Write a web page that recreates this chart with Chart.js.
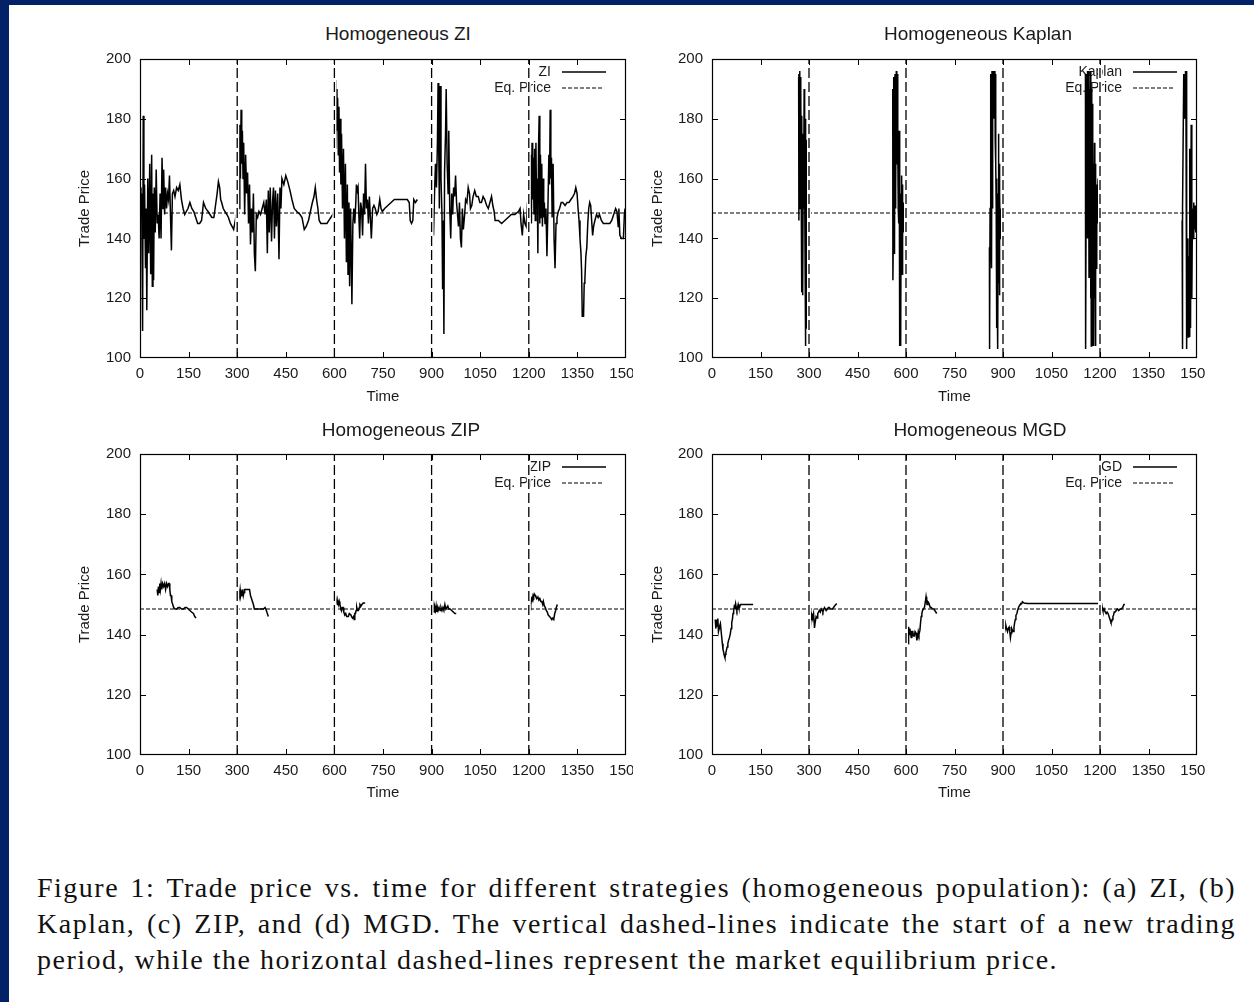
<!DOCTYPE html>
<html><head><meta charset="utf-8">
<script src="https://cdn.jsdelivr.net/npm/chart.js@4.4.0/dist/chart.umd.min.js"></script>
<style>
html,body{margin:0;padding:0;background:#fff;}
#page{position:relative;width:1254px;height:1002px;background:#fff;overflow:hidden;}
#bt{position:absolute;left:0;top:0;width:1254px;height:5px;background:#022166;}
#bl{position:absolute;left:0;top:0;width:9px;height:1002px;background:#022166;}
canvas{position:absolute;}
.ttl{position:absolute;font-family:'Liberation Sans',Arial,sans-serif;font-size:19px;color:#1a1a1a;white-space:nowrap;transform:translate(-50%,-50%);}
.cap{position:absolute;left:37px;width:1199px;font-family:'Liberation Serif','Times New Roman',serif;font-size:28px;letter-spacing:1.5px;line-height:36px;color:#111;white-space:nowrap;}
.just{text-align:justify;text-align-last:justify;}
</style></head><body>
<div id="page">
<div id="bt"></div><div id="bl"></div>
<canvas id="c1" width="573" height="370" style="left:60px;top:45px"></canvas>
<canvas id="c2" width="573" height="370" style="left:632px;top:45px"></canvas>
<canvas id="c3" width="573" height="370" style="left:60px;top:440px"></canvas>
<canvas id="c4" width="573" height="370" style="left:632px;top:440px"></canvas>
<div class="ttl" style="left:398px;top:34px">Homogeneous ZI</div>
<div class="ttl" style="left:978px;top:34px">Homogeneous Kaplan</div>
<div class="ttl" style="left:401px;top:430px">Homogeneous ZIP</div>
<div class="ttl" style="left:980px;top:430px">Homogeneous MGD</div>
<div class="cap just" style="top:870px">Figure 1: Trade price vs. time for different strategies (homogeneous population): (a) ZI, (b)</div>
<div class="cap just" style="top:906px">Kaplan, (c) ZIP, and (d) MGD. The vertical dashed-lines indicate the start of a new trading</div>
<div class="cap" style="top:942px">period, while the horizontal dashed-lines represent the market equilibrium price.</div>
</div>
<script>
// ---------------- data ----------------
const timeRange = [0, 1500];
const timeStep = 150;
const priceRange = [100, 200];
const priceStep = 20;
const periodStarts = [300, 600, 900, 1200];
const eqPrice = 148.5;

const ziTrades = [
 [[1,157],[3,152],[5,155],[8,109],[10,181],[12,140],[14,158],[17,130],[19,150],[21,116],[24,160],[27,135],[30,165],[33,128],[36,168],[38,124],[40,155],[42,126],[44,157],[47,142],[50,163],[53,145],[56,148],[59,140],[62,155],[65,140],[68,167],[71,150],[73,163],[76,148],[79,157],[82,150],[85,155],[88,153],[91,161],[94,148],[97,136],[100,155],[104,156],[108,154],[113,157],[118,156],[123,158],[128,153],[133,150],[138,148],[143,149],[148,150],[154,152],[160,150],[166,149],[172,147],[178,145],[184,145],[190,146],[196,152],[203,150],[210,149],[216,148],[222,147],[228,147],[233,151],[238,155],[242,159],[246,157],[249,153],[252,152],[257,150],[262,149],[268,148],[273,147],[279,145],[284,144],[289,143],[294,146],[297,148]],
 [[300,151],[301,137],[302,184],[304,170],[306,150],[308,178],[310,160],[312,183],[314,165],[316,176],[318,160],[320,172],[323,148],[326,168],[329,155],[332,162],[335,145],[338,158],[341,138],[344,150],[347,142],[350,155],[353,135],[356,129],[359,148],[363,147],[367,149],[372,148],[377,150],[382,152],[386,148],[390,153],[393,135],[396,156],[399,142],[402,157],[406,139],[409,152],[412,157],[415,140],[418,156],[421,144],[425,155],[429,133],[432,157],[435,150],[438,160],[444,158],[450,161],[456,159],[463,156],[469,153],[476,150],[484,149],[494,148],[500,147],[507,143],[513,144],[520,146],[526,149],[532,152],[537,154],[541,157],[545,153],[549,150],[553,146],[558,145],[568,145],[577,145],[583,146],[589,147],[595,148],[598,148]],
 [[600,148],[602,193],[604,170],[606,190],[608,176],[610,187],[612,168],[614,184],[616,162],[618,180],[620,158],[622,175],[625,150],[628,170],[631,140],[634,165],[637,132],[640,158],[642,128],[645,152],[647,124],[650,150],[652,135],[654,118],[657,145],[660,150],[663,145],[666,152],[668,158],[671,156],[673,157],[676,146],[678,140],[681,152],[684,150],[687,141],[690,155],[693,148],[696,165],[699,150],[702,153],[705,145],[708,154],[711,147],[714,140],[718,150],[722,151],[726,150],[731,148],[735,149],[740,153],[744,150],[748,149],[755,150],[765,151],[775,152],[785,153],[795,153],[805,153],[815,153],[825,153],[831,152],[834,146],[838,145],[842,146],[845,153],[850,152],[856,153]],
 [[902,145],[904,150],[906,141],[909,155],[912,165],[915,157],[918,172],[920,192],[922,170],[924,150],[926,191],[929,160],[932,148],[934,123],[936,146],[938,108],[940,162],[943,175],[945,190],[948,165],[951,155],[953,176],[956,150],[959,140],[962,155],[965,148],[968,157],[971,154],[974,161],[977,152],[980,148],[983,144],[986,152],[989,140],[992,137],[995,150],[998,143],[1002,148],[1005,153],[1009,152],[1013,157],[1017,155],[1020,150],[1024,151],[1028,154],[1033,156],[1038,154],[1044,154],[1049,152],[1054,152],[1059,154],[1064,153],[1070,151],[1075,150],[1080,152],[1085,154],[1089,151],[1093,149],[1096,146],[1106,146],[1116,145],[1126,146],[1136,147],[1146,148],[1157,148],[1168,149],[1173,150],[1176,145],[1180,141],[1184,148],[1188,145],[1192,144],[1195,150],[1198,148]],
 [[1200,148],[1202,170],[1204,150],[1206,168],[1208,145],[1210,172],[1212,153],[1214,167],[1216,148],[1218,170],[1220,146],[1222,172],[1224,150],[1226,160],[1228,135],[1230,170],[1232,181],[1234,145],[1236,168],[1238,147],[1240,165],[1242,144],[1244,160],[1246,147],[1248,152],[1250,145],[1253,150],[1256,134],[1259,150],[1262,168],[1264,158],[1266,183],[1268,160],[1270,167],[1272,147],[1275,165],[1278,140],[1281,130],[1284,145],[1287,147],[1291,149],[1295,150],[1300,152],[1305,152],[1312,151],[1318,152],[1324,152],[1330,153],[1336,154],[1341,155],[1345,157],[1349,155],[1352,150],[1355,146],[1358,140],[1361,135],[1363,129],[1365,114],[1369,114],[1371,125],[1373,126],[1376,134],[1379,137],[1382,145],[1385,150],[1388,152],[1391,151],[1394,146],[1397,141],[1400,144],[1404,146],[1409,148],[1414,147],[1418,148],[1424,146],[1430,145],[1437,145],[1444,145],[1450,145],[1456,146],[1462,148],[1468,150],[1472,149],[1476,144],[1478,150],[1481,141],[1486,140],[1492,140],[1495,148],[1497,150]]
];

const kaplanTrades = [
 [[268,194],[268.5,146],[269,195],[270,150],[271,196],[272,182],[273,194],[274,160],[275,190],[276,152],[277,122],[278,181],[279,145],[280,175],[281,121],[282,160],[283,150],[284,155],[285,190],[286,150],[287,160],[288,130],[289,180],[289.5,104],[290,155],[291,110],[292,148],[293,173],[294,140],[295,160],[296,150],[297,143],[298,153],[299,145],[300,148]],
 [[559,190],[559.5,126],[561,145],[562,194],[563,135],[564,190],[565,140],[566,195],[567,150],[568,191],[569,155],[570,196],[571,175],[572,196],[573,165],[574,195],[575,172],[576,150],[577,160],[578,145],[579,176],[580,104],[581,160],[582,106],[583,150],[584,104],[585,155],[586,140],[587,161],[588,128],[589,158],[590,145],[591,150],[592,142],[593,152],[594,146],[595,149],[596,144],[597,150],[598,146]],
 [[858,137],[858.5,103],[860,150],[862,195],[863,140],[864,194],[865,130],[866,196],[867,150],[868,195],[869,181],[870,196],[871,180],[872,195],[873,182],[875,196],[876,173],[877,195],[878,165],[879,150],[880,110],[881,160],[882,122],[883,155],[884,103],[885,150],[886,175],[887,125],[888,165],[889,121],[890,155],[891,140],[892,150],[894,145],[896,152],[898,146],[899,150]],
 [[1155,195],[1155.5,103],[1157,150],[1159,195],[1160,160],[1161,196],[1162,140],[1163,195],[1164,150],[1165,196],[1166,127],[1167,190],[1168,145],[1170,196],[1171,120],[1172,195],[1173,104],[1174,190],[1175,140],[1176,185],[1177,104],[1178,172],[1179,130],[1180,165],[1181,104],[1183,172],[1184,120],[1185,165],[1186,104],[1187,160],[1188,130],[1190,158],[1192,145],[1194,160],[1196,148],[1198,152]],
 [[1454,146],[1454.5,103],[1456,150],[1459,195],[1460,182],[1461,194],[1462,180],[1463,195],[1464,185],[1465,196],[1466,181],[1467,196],[1468,145],[1469,103],[1470,140],[1472,135],[1473,107],[1474,134],[1476,108],[1477,170],[1478,107],[1479,160],[1480,110],[1482,178],[1484,120],[1486,150],[1488,140],[1490,152],[1492,143],[1494,151],[1496,142],[1498,150]]
];

const zipTrades = [
 [[53,155],[55,153],[57,156],[59,154],[61,157],[63,155],[65,157],[67,155],[70,157],[73,156],[76,157],[79,155],[82,157],[85,156],[88,157],[90,157],[92,155],[94,153],[96,153],[98,151],[101,150],[104,149],[108,148.5],[113,148.5],[118,149],[123,149],[128,148.5],[134,148.5],[139,149],[144,149],[149,148.5],[154,148],[159,147.5],[165,147],[169,146],[173,145.5]],
 [[300,150],[301,154],[303,152],[305,155],[307,153],[309,155],[311,153],[313,154],[315,153],[317,155],[319,153],[321,154],[323,155],[326,155],[329,155],[332,155],[335,155],[338,155],[341,153],[344,152],[347,151],[350,150],[353,148.5],[358,148.5],[364,148.5],[370,148.5],[376,148.5],[381,148.5],[386,149],[390,148],[393,147],[396,146]],
 [[605,150.5],[607,151],[609,150],[611,151],[613,150],[615,151],[617,150],[619,149],[622,148],[624,149],[627,149],[629,147.5],[632,146.5],[635,147],[638,146],[641,146],[643,146],[646,147],[648,147],[651,146.5],[653,146],[656,145.5],[659,146],[661,145],[663,147],[665,147],[667,148],[669,149],[671,148],[674,148],[677,149],[679,150],[682,149.5],[685,150],[689,150.5],[695,150.5]],
 [[900,148],[902,149],[904,147.5],[906,149.5],[908,147.5],[910,149],[912,148],[914,149.5],[916,147.5],[918,149],[920,148],[923,149],[926,148],[929,149],[932,148],[935,149],[938,148],[941,150],[944,148.5],[947,149],[950,149.5],[953,148.5],[957,148.5],[962,148],[967,147.5],[972,147],[976,147]],
 [[1200,148.5],[1202,150],[1204,151],[1206,150],[1209,152],[1211,151.5],[1213,153],[1215,152.5],[1217,153.5],[1220,153],[1222,152.5],[1225,152],[1228,152.5],[1231,151.5],[1234,152],[1237,151],[1240,151],[1243,150],[1245,151],[1248,149.5],[1251,149],[1254,148],[1257,147.5],[1260,146.5],[1264,146],[1268,145.5],[1271,145],[1274,145.5],[1277,145],[1280,147],[1283,148],[1285,149],[1288,150]]
];

const mgdTrades = [
 [[10,145],[12,142],[13,144.8],[15,142.6],[18,145.3],[20,141],[22,142],[24,143],[26,143.7],[29,140.3],[32,137],[34,135],[36,134.2],[38,133],[40,132.3],[42,133.5],[43,134],[45,135],[47,135.9],[49,137],[51,138],[54,139],[57,140.5],[59,142],[61,144],[63,145],[65,147],[67,148],[69,149.4],[71,149],[73,150.3],[75,149],[77,148.1],[79,149],[81,150],[83,149],[85,149],[88,150],[91,150],[96,150],[110,150],[127,150]],
 [[303,145.3],[305,144],[307,147],[309,146],[310,145],[312,146],[314,147],[316,144],[317,142.2],[319,144],[322,146],[325,145.5],[327,147],[330,147.5],[332,148.1],[335,147.5],[338,148.5],[341,148],[343,147.5],[346,148.5],[348,149],[351,148.5],[353,148],[357,148.5],[360,149],[363,149],[366,148.5],[369,148.5],[372,148.5],[376,149],[379,149.5],[383,150],[386,150.3]],
 [[607,137],[608,142.6],[610,140],[612,142],[614,140.5],[616,139],[618,141],[621,141],[623,139.5],[626,139.5],[628,141],[631,140.5],[633,139],[634,138.1],[636,139.5],[638,141],[640,140],[643,141.4],[645,144],[647,146],[649,147],[651,148],[654,148.5],[657,149],[660,151],[662,152.6],[664,151],[665,150],[667,151],[670,150.6],[672,150],[675,149],[678,149],[682,148.5],[686,148.5],[689,148],[692,147.5],[695,147]],
 [[902,144.2],[903,145],[905,141],[907,142],[909,143],[911,142],[914,141],[916,142],[919,142.5],[921,141],[923,139],[925,140.5],[927,142],[929,141.5],[931,141],[934,142.5],[936,144],[938,145],[940,146.4],[943,147],[945,148],[948,149],[950,149.5],[953,150],[955,150.3],[958,150.3],[960,150.9],[965,150.5],[975,150.3],[1198,150.3],
  [1200,150.3],[1202,153],[1204,150.5],[1205,150],[1207,149],[1209,148],[1211,148],[1213,148.5],[1216,147.5],[1219,147],[1222,147.5],[1225,147],[1228,146],[1231,145],[1234,144],[1236,144.2],[1238,145],[1240,146],[1242,146.5],[1244,147.5],[1247,147.5],[1250,148],[1254,148.5],[1258,148],[1262,148.5],[1266,148.5],[1270,149],[1274,150],[1277,150]]
];

// ---------------- helpers ----------------
const FONT = "'Liberation Sans', Arial, Helvetica, sans-serif";
Chart.defaults.font.family = FONT;
Chart.defaults.color = '#1a1a1a';

function toPoints(periods){
  const out = [];
  periods.forEach((per, i) => {
    if (i) out.push({x: per[0][0], y: null});
    per.forEach(([t, p]) => out.push({x: t, y: p}));
  });
  return out;
}
function verticalPoints(){
  const out = [];
  periodStarts.forEach(s => { out.push({x:s, y:priceRange[0]}, {x:s, y:priceRange[1]}, {x:s, y:null}); });
  return out;
}

const framePlugin = {
  id: 'frame',
  afterDatasetsDraw(chart){
    const {ctx, chartArea: a, scales: {x, y}} = chart;
    ctx.save();
    ctx.strokeStyle = '#000';
    ctx.lineWidth = 1;
    ctx.beginPath();
    x.ticks.forEach(t => {
      if (t.value <= timeRange[0] || t.value >= timeRange[1]) return;
      const px = Math.round(x.getPixelForValue(t.value)) + 0.5;
      ctx.moveTo(px, a.bottom); ctx.lineTo(px, a.bottom - 6);
      ctx.moveTo(px, a.top); ctx.lineTo(px, a.top + 6);
    });
    y.ticks.forEach(t => {
      if (t.value <= priceRange[0] || t.value >= priceRange[1]) return;
      const py = Math.round(y.getPixelForValue(t.value)) + 0.5;
      ctx.moveTo(a.left, py); ctx.lineTo(a.left + 6, py);
      ctx.moveTo(a.right, py); ctx.lineTo(a.right - 6, py);
    });
    ctx.stroke();
    ctx.lineWidth = 1.2;
    ctx.strokeRect(Math.round(a.left) + 0.5, Math.round(a.top) + 0.5, Math.round(a.right - a.left) - 1, Math.round(a.bottom - a.top) - 1);
    ctx.restore();
  }
};

const keyPlugin = {
  id: 'key',
  beforeDatasetsDraw(chart, args, opts){
    const {ctx, chartArea: a} = chart;
    ctx.save();
    ctx.font = '14px ' + FONT;
    ctx.fillStyle = '#1a1a1a';
    ctx.textAlign = 'right';
    ctx.textBaseline = 'middle';
    const tx = a.right - 75, y1 = a.top + 13, y2 = a.top + 29;
    ctx.fillText(opts.label, tx, y1);
    ctx.fillText('Eq. Price', tx, y2);
    ctx.strokeStyle = '#000';
    ctx.lineWidth = 1.5;
    ctx.beginPath(); ctx.moveTo(a.right - 64, y1); ctx.lineTo(a.right - 20, y1); ctx.stroke();
    ctx.lineWidth = 1.1;
    ctx.setLineDash([4, 2]);
    ctx.beginPath(); ctx.moveTo(a.right - 64, y2); ctx.lineTo(a.right - 22, y2); ctx.stroke();
    ctx.restore();
  }
};

function makeChart(id, periods, label, L){
  const ctx = document.getElementById(id);
  return new Chart(ctx, {
    type: 'scatter',
    data: {
      datasets: [
        {data: verticalPoints(), showLine: true, borderColor: '#000', borderWidth: 1.3, borderDash: [10, 4], pointRadius: 0, order: 0},
        {data: verticalPoints(), showLine: true, borderColor: '#fff', borderWidth: 4, pointRadius: 0, order: 1},
        {data: [{x: timeRange[0], y: eqPrice}, {x: timeRange[1], y: eqPrice}], showLine: true, borderColor: '#000', borderWidth: 1.1, borderDash: [4, 2], pointRadius: 0, order: 2},
        {data: toPoints(periods), showLine: true, borderColor: '#000', borderWidth: 1.5, pointRadius: 0, spanGaps: false, order: 3}
      ]
    },
    options: {
      responsive: false,
      animation: false,
      devicePixelRatio: 1,
      events: [],
      layout: {padding: {left: 0, top: L.top, right: L.right, bottom: 0}},
      plugins: {legend: {display: false}, tooltip: {enabled: false}, key: {label: label}},
      scales: {
        x: {
          type: 'linear', min: timeRange[0], max: timeRange[1],
          ticks: {stepSize: timeStep, autoSkip: false, maxRotation: 0, padding: 7, font: {size: 15}, color: '#1a1a1a', callback: v => String(v)},
          grid: {display: false, drawTicks: false}, border: {display: false},
          title: {display: true, text: 'Time', font: {size: 15}, color: '#1a1a1a', padding: {top: 0, bottom: L.xTitle}},
          afterFit(s){ s.height = L.xh; s.paddingLeft = 0; s.paddingRight = 0; }
        },
        y: {
          min: priceRange[0], max: priceRange[1],
          ticks: {stepSize: priceStep, padding: 9, font: {size: 15}, color: '#1a1a1a', callback: v => String(v)},
          grid: {display: false, drawTicks: false}, border: {display: false},
          title: {display: true, text: 'Trade Price', font: {size: 15}, color: '#1a1a1a', padding: {top: L.yTitle, bottom: 0}},
          afterFit(s){ s.width = L.yw; s.paddingTop = 0; s.paddingBottom = 0; }
        }
      }
    },
    plugins: [framePlugin, keyPlugin]
  });
}

const topLayout = {top: 14, right: 7, xh: 57, yw: 80, xTitle: 9, yTitle: 16};
const topRLayout = {top: 14, right: 8, xh: 57, yw: 80, xTitle: 9, yTitle: 17};
const botLayout = {top: 14, right: 7, xh: 55, yw: 80, xTitle: 8, yTitle: 16};
const botRLayout = {top: 14, right: 8, xh: 55, yw: 80, xTitle: 8, yTitle: 17};

makeChart('c1', ziTrades, 'ZI', topLayout);
makeChart('c2', kaplanTrades, 'Kaplan', topRLayout);
makeChart('c3', zipTrades, 'ZIP', botLayout);
makeChart('c4', mgdTrades, 'GD', botRLayout);
</script>
</body></html>
